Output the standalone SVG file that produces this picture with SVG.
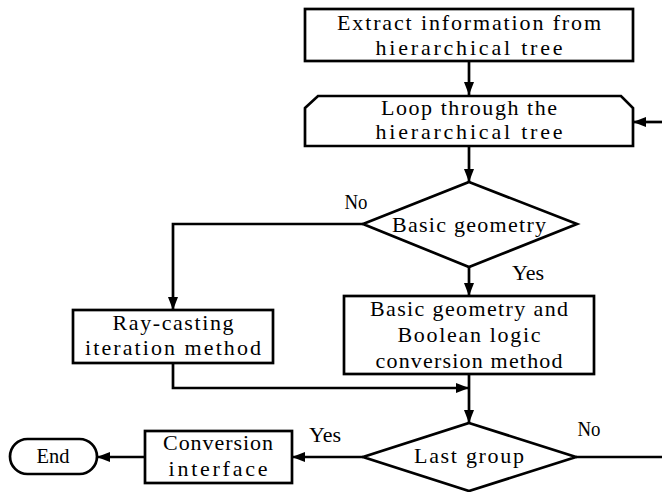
<svg xmlns="http://www.w3.org/2000/svg" width="662" height="492" viewBox="0 0 662 492">
<style>
.s{fill:#fff;stroke:#000;stroke-width:2.7}
.c{fill:none;stroke:#000;stroke-width:2.7}
text{font-family:"Liberation Serif","DejaVu Serif",serif;font-size:22px;fill:#000;text-anchor:middle}
</style>
<defs>
<marker id="ah" markerUnits="userSpaceOnUse" markerWidth="14" markerHeight="11" refX="13" refY="5" orient="auto">
<path d="M0,0 L13,5 L0,10 z" fill="#000"/>
</marker>
</defs>
<rect width="662" height="492" fill="#fff"/>
<g id="connectors">
<path class="c" d="M469,61 V95" marker-end="url(#ah)"/>
<path class="c" d="M662,122 H633" marker-end="url(#ah)"/>
<path class="c" d="M469,146 V182" marker-end="url(#ah)"/>
<path class="c" d="M363,224 H173 V310" marker-end="url(#ah)"/>
<path class="c" d="M469,267 V296" marker-end="url(#ah)"/>
<path class="c" d="M173,363 V388 H469" marker-end="url(#ah)"/>
<path class="c" d="M469,374 V423" marker-end="url(#ah)"/>
<path class="c" d="M576,457 H662"/>
<path class="c" d="M363,457 H292" marker-end="url(#ah)"/>
<path class="c" d="M145,457 H97" marker-end="url(#ah)"/>
<text x="356" y="209" textLength="23" lengthAdjust="spacingAndGlyphs">No</text>
<text x="528" y="280">Yes</text>
<text x="325" y="442">Yes</text>
<text x="589" y="436" textLength="23" lengthAdjust="spacingAndGlyphs">No</text>
</g>
<g id="extract">
<rect class="s" x="305" y="9" width="328" height="52"/>
<text x="469" y="30" textLength="264" lengthAdjust="spacing">Extract information from</text>
<text x="469" y="55" textLength="187" lengthAdjust="spacing">hierarchical tree</text>
</g>
<g id="loop">
<polygon class="s" points="305,108 318,96 621,96 633,108 633,146 305,146"/>
<text x="469" y="115" textLength="176" lengthAdjust="spacing">Loop through the</text>
<text x="469" y="139" textLength="187" lengthAdjust="spacing">hierarchical tree</text>
</g>
<g id="basic-decision">
<polygon class="s" points="469,182 577,224 469,267 363,224"/>
<text x="469" y="232" textLength="154" lengthAdjust="spacing">Basic geometry</text>
</g>
<g id="raycasting">
<rect class="s" x="73" y="310" width="200" height="53"/>
<text x="173" y="330" textLength="121" lengthAdjust="spacing">Ray-casting</text>
<text x="173" y="355" textLength="176" lengthAdjust="spacing">iteration method</text>
</g>
<g id="boolean">
<rect class="s" x="344" y="296" width="250" height="78"/>
<text x="469" y="316" textLength="198" lengthAdjust="spacing">Basic geometry and</text>
<text x="469" y="342" textLength="143" lengthAdjust="spacing">Boolean logic</text>
<text x="469" y="368" textLength="187" lengthAdjust="spacing">conversion method</text>
</g>
<g id="last-group">
<polygon class="s" points="469,423 576,457 469,491 363,457"/>
<text x="469" y="463" textLength="110" lengthAdjust="spacing">Last group</text>
</g>
<g id="conversion">
<rect class="s" x="145" y="431" width="147" height="52"/>
<text x="218" y="450" textLength="110" lengthAdjust="spacing">Conversion</text>
<text x="218" y="476" textLength="99" lengthAdjust="spacing">interface</text>
</g>
<g id="end">
<rect class="s" x="10" y="439" width="87" height="35" rx="17.5"/>
<text x="53" y="463" textLength="33" lengthAdjust="spacingAndGlyphs">End</text>
</g>
</svg>
